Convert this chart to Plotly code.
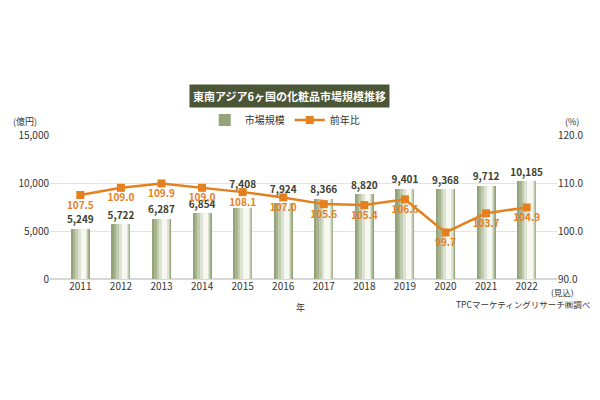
import plotly.graph_objects as go

# ————— data —————
years        = ["2011", "2012", "2013", "2014", "2015", "2016",
                "2017", "2018", "2019", "2020", "2021", "2022"]
market_size  = [5249, 5722, 6287, 6854, 7408, 7924,
                8366, 8820, 9401, 9368, 9712, 10185]   # 億円
yoy_ratio    = [107.5, 109.0, 109.9, 109.0, 108.1, 107.0,
                105.6, 105.4, 106.6, 99.7, 103.7, 104.9]  # %
# —————————————————

FONT = "Noto Sans CJK JP, DejaVu Sans, sans-serif"
ORANGE = "#e5801e"
TXT = "#333333"
Y1 = (0, 15000)
Y2 = (90, 120)

fig = go.Figure()

# gradient look: overlaid layers, dark edges -> light centre
layers = [
    (0.47, 0.00, "#94a379"),
    (0.40, 0.02, "#a8b490"),
    (0.32, 0.04, "#c1cbae"),
    (0.23, 0.06, "#dde3d2"),
    (0.13, 0.08, "#f6f8f1"),
]
for i, (w, shift, col) in enumerate(layers):
    first = i == 0
    fig.add_trace(go.Bar(
        x=years, y=market_size,
        width=w, offset=-w / 2 + shift,
        marker=dict(color=col, line=dict(width=0)),
        name="市場規模", showlegend=first,
        hoverinfo="x+y" if first else "skip",
    ))

# bar value labels: sit on the bar, but hop over the line when it runs
# just above the bar top
label_y = []
for v, r in zip(market_size, yoy_ratio):
    line_eq = (r - Y2[0]) / (Y2[1] - Y2[0]) * (Y1[1] - Y1[0])
    label_y.append(line_eq + 200 if 0 < line_eq - v < 2100 else v + 300)

fig.add_trace(go.Scatter(
    x=years, y=label_y, mode="text", showlegend=False, hoverinfo="skip",
    text=[f"<b>{v:,}</b>" for v in market_size],
    textposition="top center",
    textfont=dict(family=FONT, size=10, color="#3b4030"),
    cliponaxis=False,
))

fig.add_trace(go.Scatter(
    x=years, y=yoy_ratio, yaxis="y2",
    mode="lines+markers+text", name="前年比",
    line=dict(color=ORANGE, width=2.5),
    marker=dict(symbol="square", size=8, color=ORANGE),
    text=[f"<b>{v:.1f}</b>" for v in yoy_ratio],
    textposition="bottom center",
    textfont=dict(family=FONT, size=10, color=ORANGE),
    cliponaxis=False,
))


def note(text, x, y, xa="center", size=9, **kw):
    return dict(text=text, xref="paper", yref="paper", x=x, y=y,
                xanchor=xa, yanchor="middle", showarrow=False,
                font=dict(size=size, color=kw.pop("color", TXT)), **kw)


fig.update_layout(
    width=600, height=400,
    margin=dict(l=50, r=43, t=135, b=121),
    paper_bgcolor="white", plot_bgcolor="white",
    barmode="overlay", bargap=0,
    font=dict(family=FONT, size=10, color=TXT),
    showlegend=True,
    legend=dict(orientation="h", x=0.463, xanchor="center",
                y=1.104, yanchor="middle",
                font=dict(size=10, color=TXT)),
    xaxis=dict(type="category", showgrid=False, ticks="", automargin=False,
               tickfont=dict(size=10, color=TXT), showline=False),
    yaxis=dict(range=list(Y1), dtick=5000, tickformat=",",
               gridcolor="#e3e3e3", zeroline=True, zerolinecolor="#d8d8d8",
               ticks="", automargin=False,
               tickfont=dict(size=10, color=TXT)),
    yaxis2=dict(range=list(Y2), dtick=10, tickformat=".1f",
                overlaying="y", side="right", showgrid=False,
                zeroline=False, ticks="", automargin=False,
                tickfont=dict(size=10, color=TXT)),
    annotations=[
        note("<b>東南アジア6ヶ国の化粧品市場規模推移</b>", 0.473, 1.271,
             size=11, color="white", bgcolor="#4b5636", borderpad=3),
        note("(億円)", -0.049, 1.097),
        note("(%)", 1.030, 1.097),
        note("年", 0.495, -0.201),
        note("(見込)", 0.984, -0.093, xa="left", size=8.5),
        note("TPCマーケティングリサーチ㈱調べ", 1.069, -0.172, xa="right",
             size=8.5),
    ],
)

fig.write_html("out.html", config={"displayModeBar": False},
               post_script="document.body.style.margin='0';")
